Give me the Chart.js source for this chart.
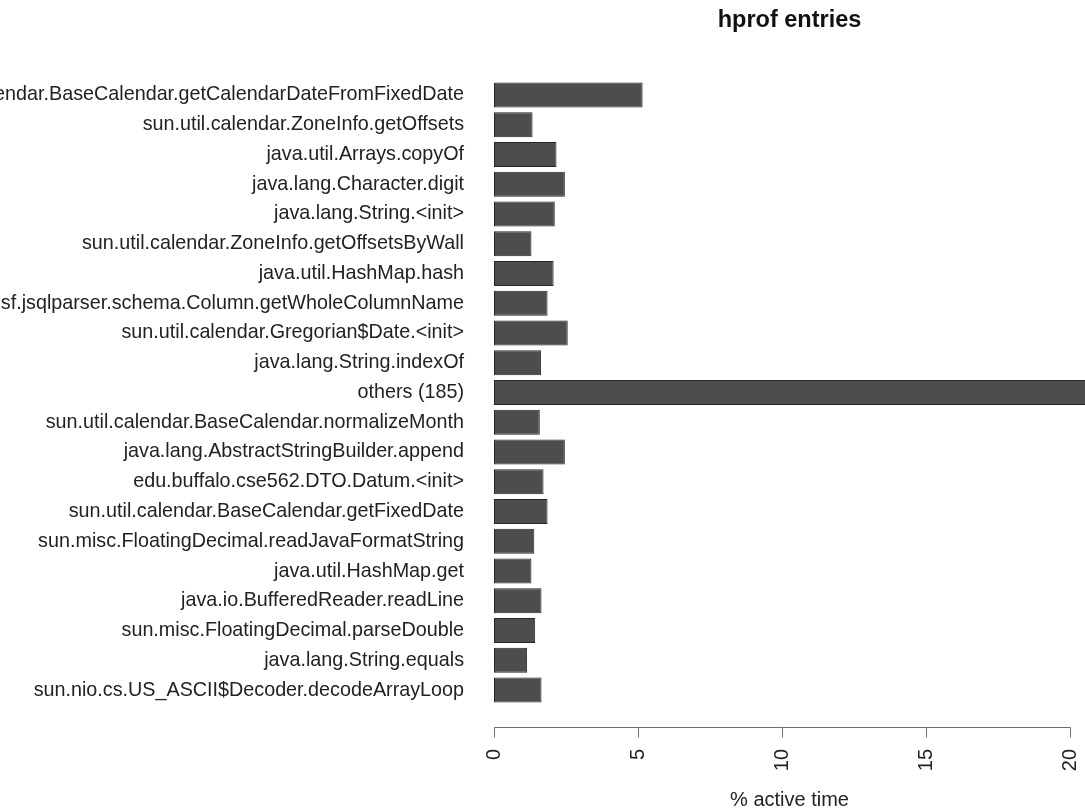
<!DOCTYPE html>
<html>
<head>
<meta charset="utf-8">
<script src="https://cdn.jsdelivr.net/npm/chart.js@4/dist/chart.umd.min.js"></script>
<style>
  html, body { margin: 0; padding: 0; background: #ffffff; }
  #wrap { width: 1085px; height: 808px; position: relative; }
</style>
</head>
<body>
<div id="wrap"><canvas id="c"></canvas></div>
<script>
const categories = [
  "sun.util.calendar.BaseCalendar.getCalendarDateFromFixedDate",
  "sun.util.calendar.ZoneInfo.getOffsets",
  "java.util.Arrays.copyOf",
  "java.lang.Character.digit",
  "java.lang.String.<init>",
  "sun.util.calendar.ZoneInfo.getOffsetsByWall",
  "java.util.HashMap.hash",
  "net.sf.jsqlparser.schema.Column.getWholeColumnName",
  "sun.util.calendar.Gregorian$Date.<init>",
  "java.lang.String.indexOf",
  "others (185)",
  "sun.util.calendar.BaseCalendar.normalizeMonth",
  "java.lang.AbstractStringBuilder.append",
  "edu.buffalo.cse562.DTO.Datum.<init>",
  "sun.util.calendar.BaseCalendar.getFixedDate",
  "sun.misc.FloatingDecimal.readJavaFormatString",
  "java.util.HashMap.get",
  "java.io.BufferedReader.readLine",
  "sun.misc.FloatingDecimal.parseDouble",
  "java.lang.String.equals",
  "sun.nio.cs.US_ASCII$Decoder.decodeArrayLoop"
];
const activeTime = [5.16, 1.34, 2.17, 2.46, 2.11, 1.30, 2.07, 1.86, 2.56, 1.63, 21.5,
                    1.59, 2.46, 1.72, 1.86, 1.40, 1.30, 1.65, 1.43, 1.15, 1.65];
const xTicks = [0, 5, 10, 15, 20];
const chartTitle = "hprof entries";
const xTitle = "% active time";

const FONT = "'Liberation Sans', Arial, Helvetica, sans-serif";

// R-style x axis: line spanning first..last tick, offset below the plot region
const rAxisPlugin = {
  id: 'rAxis',
  afterDraw(chart) {
    const x = chart.scales.x;
    const ctx = chart.ctx;
    const y = chart.chartArea.bottom + 22;
    const x0 = x.getPixelForValue(xTicks[0]);
    const x1 = x.getPixelForValue(xTicks[xTicks.length - 1]);
    ctx.save();
    ctx.strokeStyle = '#6e6e6e';
    ctx.lineWidth = 1;
    ctx.beginPath();
    ctx.moveTo(Math.round(x0) + 0.5, y + 0.5);
    ctx.lineTo(Math.round(x1) + 0.5, y + 0.5);
    xTicks.forEach(v => {
      const px = Math.round(x.getPixelForValue(v)) + 0.5;
      ctx.moveTo(px, y + 0.5);
      ctx.lineTo(px, y + 10.5);
    });
    ctx.stroke();
    ctx.restore();
  }
};

new Chart(document.getElementById('c'), {
  type: 'bar',
  data: {
    labels: categories,
    datasets: [{
      data: activeTime,
      backgroundColor: '#4d4d4d',
      borderColor: '#262626',
      borderWidth: 1,
      borderSkipped: false,
      barPercentage: 0.84,
      categoryPercentage: 1.0,
      clip: 0
    }]
  },
  options: {
    indexAxis: 'y',
    responsive: true,
    maintainAspectRatio: false,
    animation: false,
    layout: { padding: { top: 0, right: 0, bottom: 0, left: 0 } },
    plugins: {
      legend: { display: false },
      tooltip: { enabled: false },
      title: {
        display: true,
        text: chartTitle,
        fullSize: false,
        color: '#111',
        font: { family: FONT, size: 23.5, weight: 'bold', lineHeight: 1.2 },
        padding: { top: 6, bottom: 45.8 }
      }
    },
    scales: {
      x: {
        type: 'linear',
        min: 0,
        max: 20.52,
        grid: { display: false },
        border: { display: false },
        ticks: {
          stepSize: 5,
          includeBounds: false,
          minRotation: 90,
          maxRotation: 90,
          padding: 36,
          color: '#222',
          font: { family: FONT, size: 20 }
        },
        title: {
          display: true,
          text: xTitle,
          color: '#222',
          font: { family: FONT, size: 20, lineHeight: 0.8 },
          padding: { top: 0, bottom: 0 }
        },
        afterFit(scale) {
          scale.height = 103;
          scale.paddingLeft = 0;
          scale.paddingRight = 0;
        }
      },
      y: {
        type: 'category',
        grid: { display: false },
        border: { display: false },
        ticks: {
          autoSkip: false,
          padding: 22,
          color: '#222',
          font: { family: FONT, size: 19.75 }
        },
        afterFit(scale) {
          scale.width = 494;
        }
      }
    }
  },
  plugins: [rAxisPlugin]
});
</script>
</body>
</html>
